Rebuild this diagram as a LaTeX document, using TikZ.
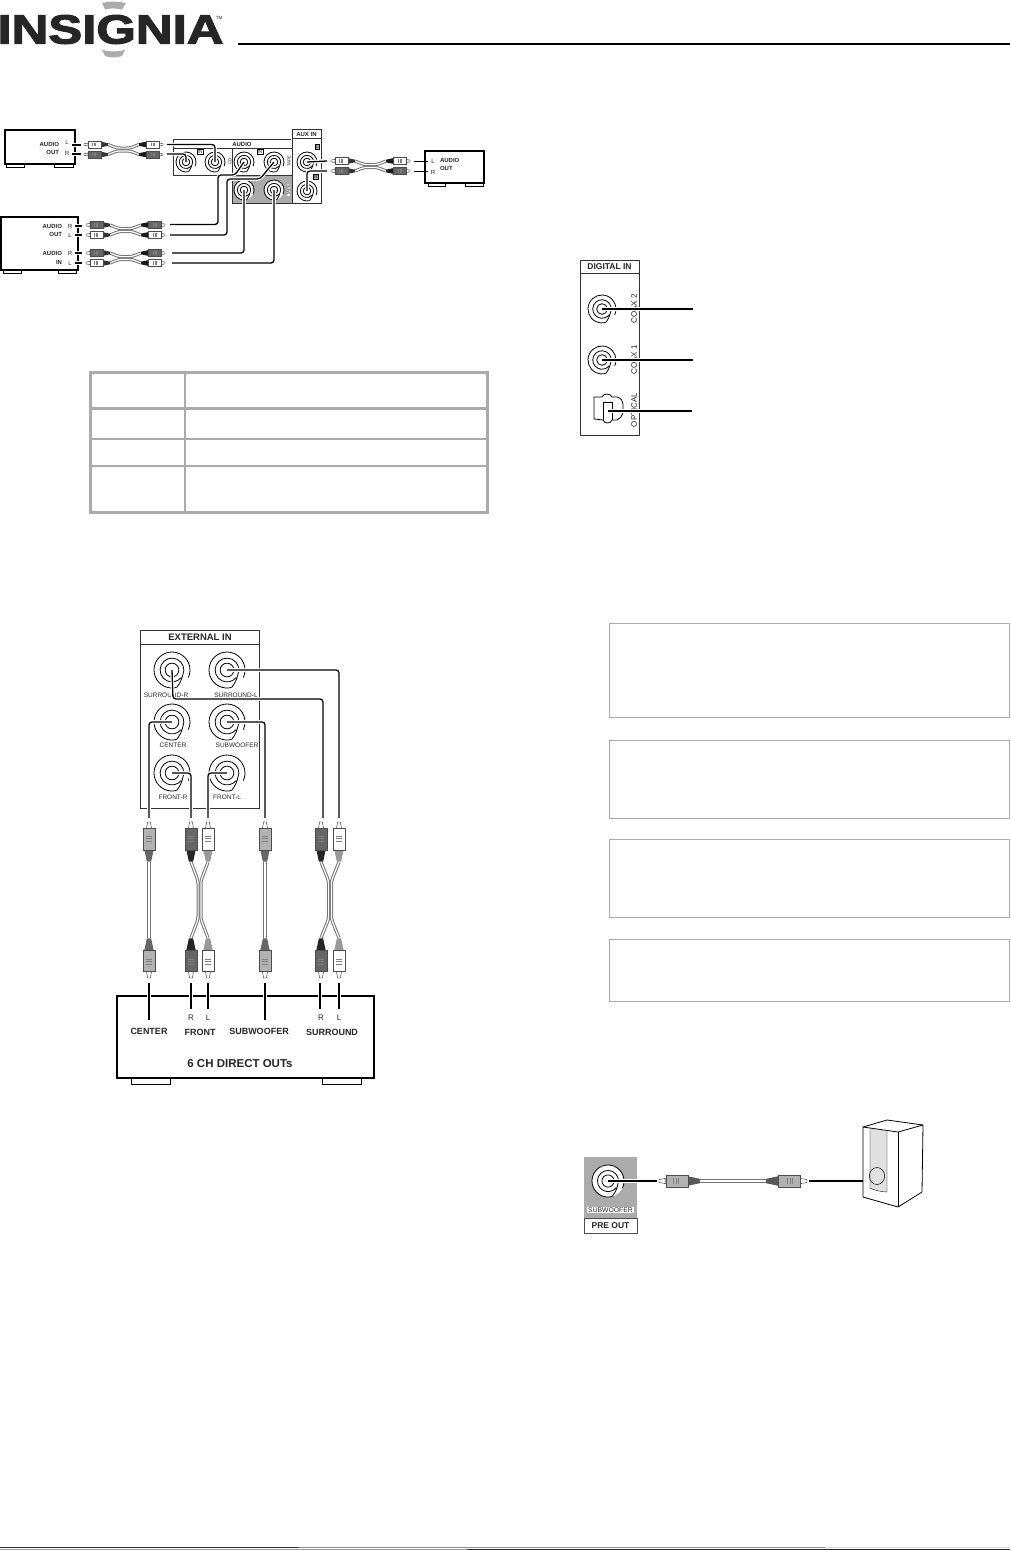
\documentclass[tikz,border=0pt]{standalone}
\usepackage{fontspec}
\setmainfont{Liberation Sans}
\newfontfamily\logofont[BoldFeatures={FakeBold=2.4}]{Liberation Sans}
\usepackage{tikz}
\usetikzlibrary{calc}
\definecolor{panelgray}{HTML}{ABABAB}
\definecolor{plugdark}{HTML}{666666}
\definecolor{pluggray}{HTML}{B2B2B2}
\newcommand{\fsize}[1]{\fontsize{#1}{#1}\selectfont}
% jack: name, position, radius
\newcommand{\rcajack}[3]{%
  \coordinate (#1) at (#2);
  \fill[white] (#1) circle (#3pt);
  \draw[jackline] ($(#1)+(-25:#3pt)$) arc (-25:285:#3pt);
  \draw[jackline] ($(#1)+(285:#3pt)$) to[bend right=12] ($(#1)+(-25:0.66*#3pt)$) arc (-25:320:0.66*#3pt);
  \draw[jackline] (#1) circle (0.38*#3pt);
}
% plug: scale, tip position, angle, body colour, strain colour
\newcommand{\rcaplug}[5][1]{%
  \begin{scope}[shift={(#2)},rotate=#3,scale=#1]
    \draw[plugline,fill=white] (0,-0.9) -- (4,-1.5) -- (4,1.5) -- (0,0.9) -- cycle;
    \fill[#5] (17,-2.8) -- (24,-1.3) -- (24,1.3) -- (17,2.8) -- cycle;
    \draw[plugline,draw=black!70,fill=#4] (4,-3.5) rectangle (17,3.5);
    \draw[plugline,draw=black!50] (8.5,-1.7) -- (8.5,1.7) (10,-1.7) -- (10,1.7) (11.5,-1.7) -- (11.5,1.7);
  \end{scope}%
}
% two wires that run together between joins
\newcommand{\ywires}[6]{%
  \draw[wire,rounded corners=3pt] (#1) -- ($(#5)!1.4pt!90:(#6)$) -- ($(#6)!1.4pt!-90:(#5)$) -- (#2);
  \draw[wire,rounded corners=3pt] (#3) -- ($(#5)!1.4pt!-90:(#6)$) -- ($(#6)!1.4pt!90:(#5)$) -- (#4);
}
% lying pair: name, left tip x, top y, bottom y, four body colours
\newcommand{\hpair}[8]{%
  \coordinate (#1la) at ({#2+24},#3);
  \coordinate (#1lb) at ({#2+24},#4);
  \coordinate (#1ra) at ({#2+55},#3);
  \coordinate (#1rb) at ({#2+55},#4);
  \coordinate (#1ja) at ({#2+33},{(#3+#4)/2});
  \coordinate (#1jb) at ({#2+46},{(#3+#4)/2});
  \ywires{#1la}{#1ra}{#1lb}{#1rb}{#1ja}{#1jb}
  \rcaplug{#2,#3}{0}{#5}{black!80}
  \rcaplug{#2,#4}{0}{#6}{black!80}
  \rcaplug{{#2+79},#3}{180}{#7}{black!90}
  \rcaplug{{#2+79},#4}{180}{#8}{black!90}
}
% standing pair: name, x of R plug, x of L plug
\newcommand{\vpair}[3]{%
  \coordinate (#1la) at (#2,862);
  \coordinate (#1ra) at (#3,862);
  \coordinate (#1lb) at (#2,938);
  \coordinate (#1rb) at (#3,938);
  \coordinate (#1ja) at ({(#2+#3)/2},881);
  \coordinate (#1jb) at ({(#2+#3)/2},919);
  \ywires{#1ra}{#1rb}{#1la}{#1lb}{#1ja}{#1jb}
  \rcaplug[1.65]{#2,822}{-90}{plugdark}{black!85}
  \rcaplug[1.65]{#3,822}{-90}{white}{black!40}
  \rcaplug[1.65]{#2,978}{90}{plugdark}{black!85}
  \rcaplug[1.65]{#3,978}{90}{white}{black!40}
}
% one standing cable: name, x
\newcommand{\vsingle}[2]{%
  \coordinate (#1a) at (#2,862);
  \coordinate (#1b) at (#2,938);
  \draw[wire] (#1a) -- (#1b);
  \rcaplug[1.65]{#2,822}{-90}{pluggray}{black!60}
  \rcaplug[1.65]{#2,978}{90}{pluggray}{black!60}
}

\begin{document}
\begin{tikzpicture}[x=1pt,y=-1pt,font=\fsize{6},text=black!85]
  \tikzset{
    devbox/.style={draw,line width=1.1pt,inner sep=0pt,outer sep=0pt},
    tag/.style={inner sep=0pt,outer sep=0pt},
    tagbold/.style={inner sep=0pt,outer sep=0pt,font=\fsize{6}\bfseries},
    notebox/.style={draw=panelgray,line width=1pt,inner sep=0pt,outer sep=0pt,minimum width=400pt},
    panel/.style={draw=black!80,line width=0.8pt},
    foot/.style={draw,line width=0.8pt},
    jackline/.style={line width=0.8pt},
    plugline/.style={line width=0.35pt},
    wire/.style={draw=black!55,line width=1pt,double=white,double distance=1.2pt},
    cord/.style={draw=black,line width=1.3pt,rounded corners=3pt,preaction={draw=white,line width=3.6pt}},
    stub/.style={draw=black,line width=1.3pt,preaction={draw=white,line width=4pt}},
    idbox/.style={draw,line width=0.5pt,inner sep=0.8pt,outer sep=0pt,font=\fsize{4.5}}
  }
  \useasboundingbox (0,0) rectangle (1010,1550);

  % Page header
  \node[tag,font=\fsize{41}\logofont\bfseries,xscale=1.24] (logo) at (110.5,29.5) {INSIGNIA};
  \node[tag,font=\fsize{4.5}] (trademark) at (219,17.5) {TM};
  \fill[panelgray] (102,3) .. controls (113,1) .. (126,3) -- (122,9.5) .. controls (113,8) .. (105,9.5) -- cycle;
  \fill[panelgray] (102,50) .. controls (113,52) .. (125,50) -- (122,56) .. controls (113,58) .. (105,56) -- cycle;
  \draw[line width=2pt] (238,44) -- (1010,44);

  % Rear panel, audio jacks
  \draw[panel] (291,139) -- (173,139) -- (173,175) -- (232,175);
  \draw[panel] (173,148) -- (292,148);
  \draw[panel] (232,148) -- (232,175);
  \fill[panelgray] (232,175) rectangle (292,203);
  \draw[panel] (232,175) -- (232,203) -- (292,203);
  \draw[panel] (232,175) -- (292,175);
  \node[panel,fill=white,inner sep=0pt,outer sep=0pt,minimum width=29pt,minimum height=74pt] (auxpanel) at (306.5,166) {};
  \draw[panel] (292,138) -- (321,138);
  \node[tagbold] (audiohead) at (242,144) {AUDIO};
  \node[tagbold] (auxhead) at (306.5,134) {AUX IN};
  \node[idbox] (cdinbox) at (200,152) {IN};
  \node[idbox] (tapeinbox) at (260,152) {IN};
  \node[idbox,fill=panelgray] (auxlbox) at (317,147) {L};
  \node[idbox,fill=panelgray] (auxrbox) at (316,177) {R};
  \node[tag,rotate=90,font=\fsize{4.5}] (cdtag) at (230,161) {CD};
  \node[tag,rotate=90,font=\fsize{4.5}] (tapetag) at (289,161) {TAPE};
  \node[tag,rotate=90,font=\fsize{4.5},fill=white] (taperectag) at (288.5,190) {TAPE};
  \rcajack{cdjackl}{186,162}{10}
  \rcajack{cdjackr}{215,162}{10}
  \rcajack{tapejackl}{244,162}{10}
  \rcajack{tapejackr}{274,162}{10}
  \rcajack{recjackl}{244,190}{10}
  \rcajack{recjackr}{274,190}{10}
  \rcajack{auxjackl}{307,162}{10}
  \rcajack{auxjackr}{307,191}{10}

  % CD player
  \node[devbox,minimum width=70pt,minimum height=34pt] (cdbox) at (40,147) {};
  \draw[foot] (6,164) rectangle (24,167);
  \draw[foot] (54,164) rectangle (73,167);
  \node[tagbold,anchor=east] (cdaudio) at (59,144) {AUDIO};
  \node[tagbold,anchor=east] (cdout) at (59,152) {OUT};
  \node[tag] (cdl) at (67,142) {L};
  \node[tag] (cdr) at (67,153) {R};
  \coordinate (cdstubla) at (72,145);
  \coordinate (cdstublb) at (81,145);
  \coordinate (cdstubra) at (72,154);
  \coordinate (cdstubrb) at (81,154);
  \draw[stub] (cdstubla) -- (cdstublb);
  \draw[stub] (cdstubra) -- (cdstubrb);
  \hpair{cdcable}{84}{144.5}{154.5}{white}{plugdark}{white}{plugdark}
  \coordinate (cdcordl) at (167,144.5);
  \coordinate (cdcordr) at (167,154);
  \draw[cord] (cdcordl) -| (cdjackr);
  \draw[cord] (cdcordr) -| (cdjackl);

  % Tape deck
  \node[devbox,minimum width=77pt,minimum height=53pt] (tapebox) at (39.5,243.5) {};
  \draw[foot] (3,270) rectangle (21,273);
  \draw[foot] (58,270) rectangle (76,273);
  \node[tagbold,anchor=east] (tapeaudioa) at (62,226) {AUDIO};
  \node[tagbold,anchor=east] (tapeouttag) at (62,234) {OUT};
  \node[tagbold,anchor=east] (tapeaudiob) at (62,253) {AUDIO};
  \node[tagbold,anchor=east] (tapeintag) at (62,262) {IN};
  \node[tag] (taperi) at (70,226) {R};
  \node[tag] (tapeli) at (70,235) {L};
  \node[tag] (taperj) at (70,253) {R};
  \node[tag] (tapelj) at (70,263) {L};
  \coordinate (tapestuba) at (75,226);
  \coordinate (tapestubb) at (82,226);
  \coordinate (tapestubc) at (75,235);
  \coordinate (tapestubd) at (82,235);
  \coordinate (tapestube) at (75,253);
  \coordinate (tapestubf) at (82,253);
  \coordinate (tapestubg) at (75,263);
  \coordinate (tapestubh) at (82,263);
  \draw[stub] (tapestuba) -- (tapestubb);
  \draw[stub] (tapestubc) -- (tapestubd);
  \draw[stub] (tapestube) -- (tapestubf);
  \draw[stub] (tapestubg) -- (tapestubh);
  \hpair{tapeout}{86}{225}{235}{plugdark}{white}{plugdark}{white}
  \hpair{tapein}{86}{253}{263}{plugdark}{white}{plugdark}{white}
  \coordinate (taoutra) at (170,224.5);
  \coordinate (taoutrb) at (218,175);
  \coordinate (taoutrc) at (235,175);
  \coordinate (taoutla) at (170,235);
  \coordinate (taoutlb) at (227,179);
  \coordinate (taoutlc) at (260,179);
  \coordinate (tainra) at (172,253);
  \coordinate (tainla) at (172,263);
  \draw[cord] (taoutra) -| (taoutrb) -- (taoutrc) -- (tapejackl);
  \draw[cord] (taoutla) -| (taoutlb) -- (taoutlc) -- (tapejackr);
  \draw[cord] (tainra) -| (recjackl);
  \draw[cord] (tainla) -| (recjackr);

  % Aux source
  \node[devbox,minimum width=59pt,minimum height=32pt] (auxbox) at (454.5,167) {};
  \draw[foot] (428,183) rectangle (445,186);
  \draw[foot] (465,183) rectangle (483,186);
  \node[tagbold,anchor=west] (auxaudio) at (440,160) {AUDIO};
  \node[tagbold,anchor=west] (auxout) at (440,168) {OUT};
  \node[tag] (auxl) at (433,161) {L};
  \node[tag] (auxr) at (433,172) {R};
  \coordinate (auxstubla) at (414,161);
  \coordinate (auxstublb) at (428,161);
  \coordinate (auxstubra) at (414,171);
  \coordinate (auxstubrb) at (428,171);
  \draw[line width=0.9pt] (auxstubla) -- (auxstublb);
  \draw[line width=0.9pt] (auxstubra) -- (auxstubrb);
  \hpair{auxcable}{331}{161}{171}{white}{plugdark}{white}{plugdark}
  \coordinate (auxcordl) at (327,161);
  \coordinate (auxcordr) at (327,171);
  \draw[cord] (auxjackl) -- (auxcordl);
  \draw[cord] (auxjackr) |- (auxcordr);

  % Empty table
  \draw[panelgray,line width=3pt] (90.5,372) rectangle (487,512.5);
  \draw[panelgray,line width=3pt] (90,408.5) -- (487,408.5);
  \draw[panelgray,line width=2pt] (90,438.5) -- (487,438.5);
  \draw[panelgray,line width=2pt] (90,466) -- (487,466);
  \draw[panelgray,line width=1.5pt] (185,372) -- (185,512);

  % External in panel
  \node[panel,inner sep=0pt,outer sep=0pt,minimum width=119pt,minimum height=178pt] (extpanel) at (199.5,719) {};
  \draw[panel] (140,644) -- (259,644);
  \node[tag,font=\fsize{9.5}\bfseries] (exthead) at (200,637) {EXTERNAL IN};
  \rcajack{surrjack}{172,670}{18}
  \rcajack{surljack}{227,670}{18}
  \rcajack{cenjack}{172,722}{18}
  \rcajack{subjack}{227,722}{18}
  \rcajack{frrjack}{172,773}{18}
  \rcajack{frljack}{227,773}{18}
  \node[tag,font=\fsize{6.5}] (surrtag) at (166,695) {SURROUND-R};
  \node[tag,font=\fsize{6.5}] (surltag) at (236,695) {SURROUND-L};
  \node[tag,font=\fsize{6.5}] (centag) at (173,745) {CENTER};
  \node[tag,font=\fsize{6.5}] (subtag) at (237,745) {SUBWOOFER};
  \node[tag,font=\fsize{6.5}] (frrtag) at (173,797) {FRONT-R};
  \node[tag,font=\fsize{6.5}] (frltag) at (227,797) {FRONT-L};

  % Cables from the decoder
  \vsingle{cenplug}{149}
  \vpair{frontplug}{191}{208}
  \vsingle{subplug}{265}
  \vpair{surplug}{321}{339}

  % Decoder box
  \node[devbox,minimum width=257pt,minimum height=82pt] (decbox) at (245.5,1037) {};
  \draw[foot] (131,1078) rectangle (170,1084);
  \draw[foot] (322,1078) rectangle (361,1084);
  \node[tag,font=\fsize{8}] (frr) at (191,1018) {R};
  \node[tag,font=\fsize{8}] (frl) at (208,1018) {L};
  \node[tag,font=\fsize{8}] (sur) at (321,1018) {R};
  \node[tag,font=\fsize{8}] (sul) at (339,1018) {L};
  \node[tag,font=\fsize{9}\bfseries] (cenlabel) at (149,1031) {CENTER};
  \node[tag,font=\fsize{9}\bfseries] (frontlabel) at (200,1032) {FRONT};
  \node[tag,font=\fsize{9}\bfseries] (sublabel) at (259,1031) {SUBWOOFER};
  \node[tag,font=\fsize{9}\bfseries] (surlabel) at (332,1032) {SURROUND};
  \node[tag,font=\fsize{11.5}\bfseries] (decname) at (240,1064) {6 CH DIRECT OUTs};
  \coordinate (censtuba) at (149,983);
  \coordinate (censtubb) at (149,1020);
  \coordinate (frrstuba) at (191,983);
  \coordinate (frrstubb) at (191,1009);
  \coordinate (frlstuba) at (208,983);
  \coordinate (frlstubb) at (208,1009);
  \coordinate (substuba) at (265,983);
  \coordinate (substubb) at (265,1020);
  \coordinate (surstuba) at (320,983);
  \coordinate (surstubb) at (320,1009);
  \coordinate (sulstuba) at (339,983);
  \coordinate (sulstubb) at (339,1009);
  \draw[stub] (censtuba) -- (censtubb);
  \draw[stub] (frrstuba) -- (frrstubb);
  \draw[stub] (frlstuba) -- (frlstubb);
  \draw[stub] (substuba) -- (substubb);
  \draw[stub] (surstuba) -- (surstubb);
  \draw[stub] (sulstuba) -- (sulstubb);

  % Cords into the external in panel
  \coordinate (sulcord) at (339,818);
  \coordinate (surcord) at (323,818);
  \coordinate (surbend) at (173,699);
  \coordinate (cencord) at (149,818);
  \coordinate (subcord) at (265,818);
  \coordinate (frrcord) at (191,818);
  \coordinate (frlcord) at (208,818);
  \draw[cord] (surljack) -| (sulcord);
  \draw[cord] (surrjack) -- (surbend) -| (surcord);
  \draw[cord] (cenjack) -| (cencord);
  \draw[cord] (subjack) -| (subcord);
  \draw[cord] (frrjack) -| (frrcord);
  \draw[cord] (frljack) -| (frlcord);

  % Digital in panel
  \node[panel,inner sep=0pt,outer sep=0pt,minimum width=59pt,minimum height=175pt] (digpanel) at (609.5,347.5) {};
  \draw[panel] (580,273) -- (639,273);
  \node[tag,font=\fsize{8.5}\bfseries] (dighead) at (609.5,267) {DIGITAL IN};
  \node[tag,rotate=90,font=\fsize{8}] (coaxtwo) at (634,309) {COAX 2};
  \node[tag,rotate=90,font=\fsize{8}] (coaxone) at (634,360) {COAX 1};
  \node[tag,rotate=90,font=\fsize{8}] (optical) at (634,410) {OPTICAL};
  \rcajack{coaxjackb}{602,309}{14}
  \rcajack{coaxjacka}{602,360}{14}
  \coordinate (optjack) at (608,411);
  \draw[jackline] (594,397) -- (602,397) .. controls (603,393) and (611,393) .. (612,397) -- (617,397) .. controls (621,398) and (623,401) .. (623,404) -- (623,413) .. controls (622,416) and (620,419) .. (617,420) -- (612,420) .. controls (611,424) and (604,424) .. (603,420) -- (594,419) -- cycle;
  \draw[jackline] (603,402) -- (612,402) -- (612,420);
  \draw[jackline] (603,402) -- (603,420);
  \coordinate (coaxendb) at (693,309);
  \coordinate (coaxenda) at (693,360);
  \coordinate (optend) at (692,411);
  \draw[cord,line width=1.2pt] (coaxjackb) -- (coaxendb);
  \draw[cord,line width=1.2pt] (coaxjacka) -- (coaxenda);
  \draw[cord,line width=1.2pt] (optjack) -- (optend);

  % Empty note boxes
  \node[notebox,minimum height=94pt] (noteone) at (809,670) {};
  \node[notebox,minimum height=78pt] (notetwo) at (809,779) {};
  \node[notebox,minimum height=78pt] (notethree) at (809,878) {};
  \node[notebox,minimum height=62pt] (notefour) at (809,970) {};

  % Subwoofer pre out
  \fill[panelgray] (584,1157) rectangle (637,1218);
  \node[draw=black!70,line width=0.8pt,inner sep=0pt,outer sep=0pt,minimum width=53pt,minimum height=15pt,font=\fsize{8.5}\bfseries] (prebox) at (610.5,1225.5) {PRE OUT};
  \rcajack{prejack}{608,1181}{16}
  \node[tag,fill=white,font=\fsize{6.8},inner sep=0.8pt] (pretag) at (610.5,1210) {SUBWOOFER};
  \coordinate (preend) at (657,1181);
  \draw[cord] (prejack) -- (preend);
  \coordinate (subwa) at (700,1181);
  \coordinate (subwb) at (766,1181);
  \draw[wire] (subwa) -- (subwb);
  \rcaplug[1.7]{659,1181}{0}{pluggray}{black!65}
  \rcaplug[1.7]{807,1181}{180}{pluggray}{black!65}

  % Subwoofer cabinet
  \fill[black!12] (870,1128) -- (887,1131) -- (887,1192) .. controls (878,1190) and (872,1189) .. (870,1188) -- cycle;
  \draw[line width=0.8pt,line join=round] (863,1127) -- (887,1120) -- (923,1125) -- (922,1192) -- (898,1207) -- (863,1197) -- cycle;
  \draw[line width=0.8pt] (863,1127) -- (898,1132) -- (923,1125);
  \draw[line width=0.8pt] (898,1132) -- (898,1207);
  \draw[line width=0.4pt] (870,1128) -- (870,1188) .. controls (873,1190) and (882,1192) .. (887,1192) -- (887,1131);
  \node[circle,draw,line width=0.5pt,inner sep=0pt,outer sep=0pt,minimum size=17pt,xscale=0.9] (subcone) at (877,1176) {};
  \coordinate (subin) at (863,1181);
  \coordinate (subline) at (809,1181);
  \draw[line width=1.3pt] (subline) -- (subin);

  % Page footer
  \draw[black!80,line width=1pt] (0,1547) -- (299,1547);
  \draw[black!45,line width=1pt] (299,1547) -- (825,1547);
  \draw[black!15,line width=1pt] (825,1547) -- (1010,1547);
  \draw[black!40,line width=1pt] (0,1549.5) -- (467,1549.5);
  \draw[black!85,line width=1pt] (467,1549.5) -- (1010,1549.5);
\end{tikzpicture}
\end{document}
